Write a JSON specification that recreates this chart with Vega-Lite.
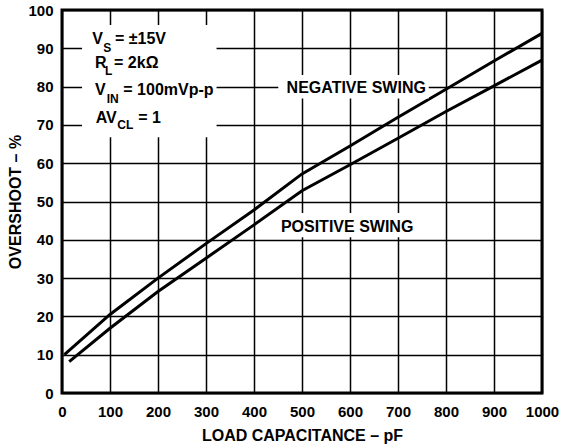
{
  "$schema": "https://vega.github.io/schema/vega-lite/v6.json",
  "width": 480,
  "height": 383,
  "autosize": {"type": "none"},
  "padding": {"left": 62, "top": 10, "right": 21, "bottom": 55},
  "background": "white",
  "config": {
    "view": {"stroke": "black", "strokeWidth": 3},
    "font": "Liberation Sans",
    "axis": {
      "labelFont": "Liberation Sans", "labelFontWeight": "bold", "labelFontSize": 15, "labelColor": "black",
      "titleFont": "Liberation Sans", "titleFontWeight": "bold", "titleFontSize": 16, "titleColor": "black",
      "grid": true, "gridColor": "black", "gridWidth": 1.5, "gridOpacity": 1, "gridDash": [],
      "domain": false, "ticks": false, "labelFlush": false, "labelOverlap": false
    },
    "text": {"font": "Liberation Sans", "fontWeight": "bold", "color": "black", "align": "left", "baseline": "alphabetic", "fontSize": 16}
  },
  "resolve": {"axis": {"x": "independent", "y": "independent"}},
  "datasets": {
    "curves": [
      {"swing": "negative", "cap": 5, "overshoot": 10},
      {"swing": "negative", "cap": 100, "overshoot": 20.5},
      {"swing": "negative", "cap": 200, "overshoot": 30},
      {"swing": "negative", "cap": 300, "overshoot": 39},
      {"swing": "negative", "cap": 400, "overshoot": 47.8},
      {"swing": "negative", "cap": 500, "overshoot": 57.2},
      {"swing": "negative", "cap": 600, "overshoot": 64.5},
      {"swing": "negative", "cap": 700, "overshoot": 72},
      {"swing": "negative", "cap": 800, "overshoot": 79.3},
      {"swing": "negative", "cap": 900, "overshoot": 86.7},
      {"swing": "negative", "cap": 1000, "overshoot": 93.9},
      {"swing": "positive", "cap": 15, "overshoot": 8.2},
      {"swing": "positive", "cap": 100, "overshoot": 16.9},
      {"swing": "positive", "cap": 200, "overshoot": 26.5},
      {"swing": "positive", "cap": 300, "overshoot": 35.2},
      {"swing": "positive", "cap": 400, "overshoot": 43.9},
      {"swing": "positive", "cap": 500, "overshoot": 52.8},
      {"swing": "positive", "cap": 600, "overshoot": 59.6},
      {"swing": "positive", "cap": 700, "overshoot": 66.5},
      {"swing": "positive", "cap": 800, "overshoot": 73.5},
      {"swing": "positive", "cap": 900, "overshoot": 80.2},
      {"swing": "positive", "cap": 1000, "overshoot": 86.9}
    ]
  },
  "data": {"values": [{}]},
  "layer": [
    {"data": {"name": "curves"},
     "mark": {"type": "line", "color": "black", "strokeWidth": 3},
     "encoding": {
       "x": {"field": "cap", "type": "quantitative", "scale": {"domain": [0, 1000], "nice": false},
             "axis": {"title": "LOAD CAPACITANCE – pF", "grid": true, "format": "d", "values": [0,100,200,300,400,500,600,700,800,900,1000], "labelPadding": 11, "titlePadding": 8}},
       "y": {"field": "overshoot", "type": "quantitative", "scale": {"domain": [0, 100], "nice": false},
             "axis": {"title": "OVERSHOOT – %", "grid": true, "format": "d", "values": [0,10,20,30,40,50,60,70,80,90,100], "labelPadding": 9, "titlePadding": 4}},
       "detail": {"field": "swing"}
     }},
    {"mark": {"type": "rect", "fill": "white", "strokeWidth": 0},
     "encoding": {"x": {"datum": 41.7, "axis": null}, "x2": {"datum": 322}, "y": {"datum": 66.8, "axis": null}, "y2": {"datum": 96.1}}},
    {"mark": {"type": "rect", "fill": "white", "strokeWidth": 0},
     "encoding": {"x": {"datum": 450.6, "axis": null}, "x2": {"datum": 764}, "y": {"datum": 76.9, "axis": null}, "y2": {"datum": 83}}},
    {"mark": {"type": "rect", "fill": "white", "strokeWidth": 0},
     "encoding": {"x": {"datum": 455, "axis": null}, "x2": {"datum": 735}, "y": {"datum": 40.65, "axis": null}, "y2": {"datum": 47}}},
    {"mark": {"type": "text", "text": "V"}, "encoding": {"x": {"datum": 63.1, "axis": null}, "y": {"datum": 91.04, "axis": null}}},
    {"mark": {"type": "text", "text": "S", "fontSize": 12}, "encoding": {"x": {"datum": 86, "axis": null}, "y": {"datum": 89.1, "axis": null}}},
    {"mark": {"type": "text", "text": "= ±15V"}, "encoding": {"x": {"datum": 110.4, "axis": null}, "y": {"datum": 91.04, "axis": null}}},
    {"mark": {"type": "text", "text": "R"}, "encoding": {"x": {"datum": 68.75, "axis": null}, "y": {"datum": 84.78, "axis": null}}},
    {"mark": {"type": "text", "text": "L", "fontSize": 12}, "encoding": {"x": {"datum": 89.6, "axis": null}, "y": {"datum": 83.03, "axis": null}}},
    {"mark": {"type": "text", "text": "= 2kΩ"}, "encoding": {"x": {"datum": 108.5, "axis": null}, "y": {"datum": 84.78, "axis": null}}},
    {"mark": {"type": "text", "text": "V"}, "encoding": {"x": {"datum": 68.75, "axis": null}, "y": {"datum": 77.68, "axis": null}}},
    {"mark": {"type": "text", "text": "IN", "fontSize": 12}, "encoding": {"x": {"datum": 93.1, "axis": null}, "y": {"datum": 75.8, "axis": null}}},
    {"mark": {"type": "text", "text": "= 100mVp-p"}, "encoding": {"x": {"datum": 127.7, "axis": null}, "y": {"datum": 77.68, "axis": null}}},
    {"mark": {"type": "text", "text": "AV"}, "encoding": {"x": {"datum": 70.2, "axis": null}, "y": {"datum": 70.57, "axis": null}}},
    {"mark": {"type": "text", "text": "CL", "fontSize": 12}, "encoding": {"x": {"datum": 115.2, "axis": null}, "y": {"datum": 68.85, "axis": null}}},
    {"mark": {"type": "text", "text": "= 1"}, "encoding": {"x": {"datum": 159, "axis": null}, "y": {"datum": 70.57, "axis": null}}},
    {"mark": {"type": "text", "text": "NEGATIVE SWING", "align": "center"}, "encoding": {"x": {"datum": 613, "axis": null}, "y": {"datum": 78.2, "axis": null}}},
    {"mark": {"type": "text", "text": "POSITIVE SWING", "align": "center"}, "encoding": {"x": {"datum": 594, "axis": null}, "y": {"datum": 42.1, "axis": null}}}
  ]
}
